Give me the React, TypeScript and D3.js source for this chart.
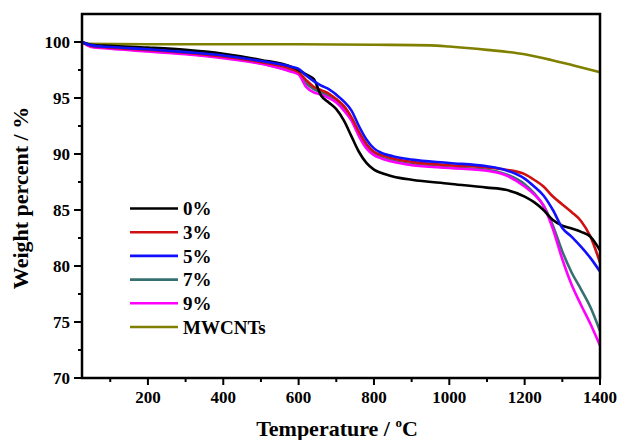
import React from 'react'
import * as d3 from 'd3'

// temperatures shared by the composite samples
const temps = [25, 50, 100, 200, 300, 400, 500, 580, 600, 620, 640, 660, 680, 700, 720, 740, 760, 780, 800, 820, 850, 900, 1000, 1100, 1150, 1200, 1225, 1250, 1275, 1300, 1325, 1350, 1375, 1400]

const w0 = [100, 99.75, 99.65, 99.5, 99.3, 98.95, 98.4, 97.8, 97.5, 97.1, 96.7, 95.2, 94.6, 94.0, 93.0, 91.6, 90.2, 89.2, 88.6, 88.3, 88.0, 87.7, 87.35, 87.0, 86.8, 86.2, 85.7, 85.0, 84.1, 83.6, 83.35, 83.05, 82.6, 81.4]
const w3 = [100, 99.65, 99.5, 99.3, 99.05, 98.7, 98.2, 97.6, 97.3, 96.6, 96.0, 95.7, 95.4, 94.9, 94.3, 93.3, 92.0, 90.9, 90.2, 89.9, 89.6, 89.3, 89.0, 88.8, 88.6, 88.2, 87.7, 87.1, 86.2, 85.5, 84.8, 84.0, 82.6, 80.3]
const w5 = [100, 99.7, 99.55, 99.35, 99.1, 98.8, 98.3, 97.8, 97.6, 97.0, 96.5, 96.1, 95.8, 95.3, 94.7, 93.9, 92.5, 91.3, 90.5, 90.1, 89.8, 89.5, 89.2, 88.9, 88.55, 87.8, 87.1, 86.3, 85.0, 83.4, 82.6, 81.7, 80.7, 79.5]
const w7 = [100, 99.6, 99.45, 99.2, 98.95, 98.6, 98.1, 97.4, 97.2, 96.3, 95.8, 95.5, 95.2, 94.7, 94.1, 93.1, 91.8, 90.7, 90.0, 89.7, 89.4, 89.1, 88.8, 88.6, 88.2, 87.3, 86.5, 85.4, 83.6, 81.3, 79.4, 77.9, 76.3, 74.2]
const w9 = [100, 99.55, 99.4, 99.15, 98.9, 98.55, 98.05, 97.35, 97.1, 96.0, 95.5, 95.3, 95.0, 94.6, 93.9, 93.0, 91.6, 90.5, 89.9, 89.6, 89.3, 89.0, 88.75, 88.5, 88.1, 87.1, 86.4, 85.4, 83.3, 80.6, 78.3, 76.5, 74.8, 72.9]

const cntTemps = [25, 200, 400, 600, 800, 950, 1000, 1100, 1200, 1270, 1330, 1400]
const cntW = [99.85, 99.8, 99.8, 99.8, 99.75, 99.7, 99.6, 99.3, 98.9, 98.4, 97.9, 97.3]

const labels = ['0%', '3%', '5%', '7%', '9%', 'MWCNTs']
const colors = ['#000000', '#d01010', '#1010ff', '#367070', '#ff00ff', '#808000']

const xTicks = [200, 400, 600, 800, 1000, 1200, 1400]
const xMinor = [100, 300, 500, 700, 900, 1100, 1300]
const yTicks = [70, 75, 80, 85, 90, 95, 100]
const yMinor = [72.5, 77.5, 82.5, 87.5, 92.5, 97.5]

const font = '"Liberation Serif", "Times New Roman", serif'

export default function App() {
  const width = 620, height = 440
  const left = 82, right = 600, top = 14, bottom = 378

  const x = d3.scaleLinear().domain([25, 1400]).range([left, right])
  const y = d3.scaleLinear().domain([70, 102.5]).range([bottom, top])

  const line = d3.line<[number, number]>()
    .x(d => x(d[0]))
    .y(d => y(d[1]))
    .curve(d3.curveMonotoneX)

  const series = [w0, w3, w5, w7, w9].map(vals => temps.map((t, i) => [t, vals[i]] as [number, number]))
  series.push(cntTemps.map((t, i) => [t, cntW[i]] as [number, number]))

  // draw order: olive first, then the composites
  const order = [5, 3, 4, 1, 0, 2]

  return (
    <svg width={width} height={height} style={{ position: 'absolute', left: 0, top: 0, background: '#fff' }}
      fontFamily={font} fontWeight="bold">
      <defs>
        <clipPath id="plot">
          <rect x={left} y={top} width={right - left} height={bottom - top} />
        </clipPath>
      </defs>
      <g clipPath="url(#plot)">
        {order.map(i => (
          <path key={i} d={line(series[i]) || ''} fill="none" stroke={colors[i]} strokeWidth={2.6} />
        ))}
      </g>

      {/* frame */}
      <rect x={left} y={top} width={right - left} height={bottom - top} fill="none" stroke="#000" strokeWidth={2.5} />

      {/* x ticks */}
      {xTicks.map(t => (
        <g key={'x' + t}>
          <line x1={x(t)} x2={x(t)} y1={bottom} y2={bottom + 7} stroke="#000" strokeWidth={2} />
          <text x={x(t)} y={403} textAnchor="middle" fontSize={17}>{t}</text>
        </g>
      ))}
      {xMinor.map(t => (
        <line key={'xm' + t} x1={x(t)} x2={x(t)} y1={bottom} y2={bottom + 4} stroke="#000" strokeWidth={2} />
      ))}

      {/* y ticks */}
      {yTicks.map(t => (
        <g key={'y' + t}>
          <line x1={left - 8} x2={left} y1={y(t)} y2={y(t)} stroke="#000" strokeWidth={2} />
          <text x={left - 12} y={y(t)} dy="0.34em" textAnchor="end" fontSize={17}>{t}</text>
        </g>
      ))}
      {yMinor.map(t => (
        <line key={'ym' + t} x1={left - 4} x2={left} y1={y(t)} y2={y(t)} stroke="#000" strokeWidth={2} />
      ))}

      {/* legend */}
      {labels.map((l, i) => (
        <g key={l} transform={`translate(130, ${208.5 + i * 23.7})`}>
          <line x1={0} x2={48} y1={0} y2={0} stroke={colors[i]} strokeWidth={2.6} />
          <text x={53} y={0} dy="0.35em" fontSize={19}>{l}</text>
        </g>
      ))}

      {/* axis titles */}
      <text transform={`translate(28, 198) rotate(-90)`} textAnchor="middle" fontSize={22}>Weight percent / %</text>
      <text x={337} y={436} textAnchor="middle" fontSize={22}>
        Temperature / <tspan fontSize={13} dy={-9}>o</tspan><tspan dy={9}>C</tspan>
      </text>
    </svg>
  )
}
